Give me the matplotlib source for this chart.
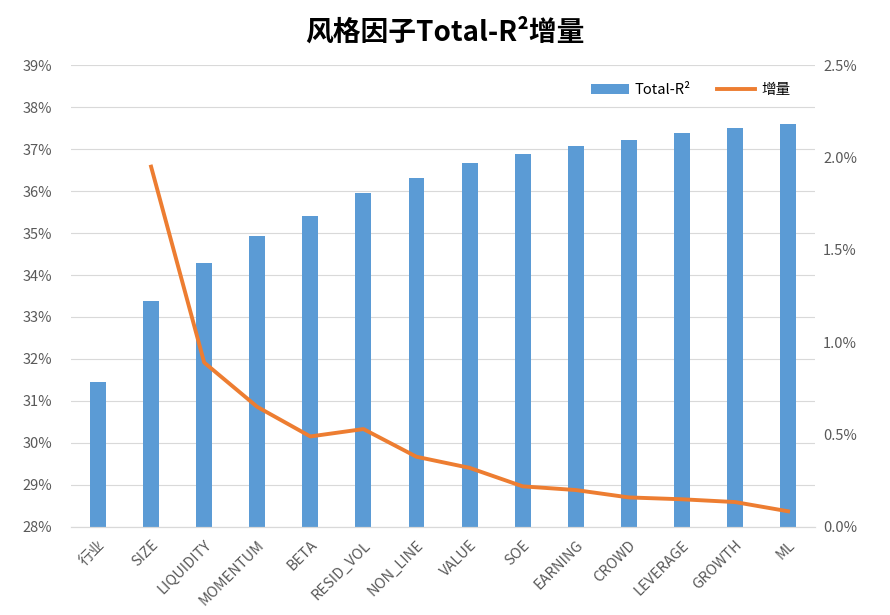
import numpy as np
import matplotlib.pyplot as plt
from matplotlib.ticker import FuncFormatter

plt.rcParams['font.family'] = ['Noto Sans CJK SC', 'DejaVu Sans']

categories = ['行业', 'SIZE', 'LIQUIDITY', 'MOMENTUM', 'BETA', 'RESID_VOL', 'NON_LINE',
              'VALUE', 'SOE', 'EARNING', 'CROWD', 'LEVERAGE', 'GROWTH', 'ML']
total_r2 = [31.45, 33.38, 34.28, 34.93, 35.40, 35.95, 36.32,
            36.66, 36.87, 37.06, 37.22, 37.37, 37.51, 37.59]
increment = [np.nan, 1.95, 0.89, 0.65, 0.49, 0.53, 0.38,
             0.32, 0.22, 0.20, 0.16, 0.15, 0.135, 0.085]

gray = '#595959'
x = np.arange(len(categories))

fig = plt.figure(figsize=(8.9, 6.15), dpi=100)
ax = fig.add_axes([0.0803, 0.1431, 0.835, 0.7512])
ax2 = ax.twinx()

bars = ax.bar(x, total_r2, width=0.3, color='#5b9bd5', label='Total-R²', zorder=2)
ax.set_ylim(28, 39)
ax.set_yticks(np.arange(28, 40, 1))
ax.yaxis.set_major_formatter(FuncFormatter(lambda v, p: '%d%%' % v))
ax.set_xlim(-0.5, len(categories) - 0.5)
ax.set_xticks(x)
ax.set_xticklabels(categories, rotation=45, ha='right', rotation_mode='anchor')
ax.grid(axis='y', color='#d9d9d9', linewidth=0.8, zorder=0)
ax.set_axisbelow(True)

line, = ax2.plot(x, increment, color='#ed7d31', linewidth=2.8, label='增量')
ax2.set_ylim(0, 2.5)
ax2.set_yticks(np.arange(0, 2.6, 0.5))
ax2.yaxis.set_major_formatter(FuncFormatter(lambda v, p: '%.1f%%' % v))

for a in (ax, ax2):
    for s in ['top', 'left', 'right']:
        a.spines[s].set_visible(False)
    a.spines['bottom'].set_color('#d9d9d9')
    a.tick_params(length=0, colors=gray, labelsize=10.5)
ax.tick_params(axis='y', pad=14)
ax2.tick_params(axis='y', pad=6)
ax.tick_params(axis='x', pad=8)

fig.suptitle('风格因子Total-R²增量', fontsize=20, fontweight='bold', y=0.97)
ax.legend([bars, line], ['Total-R²', '增量'], loc='upper right', ncol=2,
          frameon=False, fontsize=10.5, bbox_to_anchor=(0.985, 0.99),
          handlelength=2.6, handletextpad=0.4, columnspacing=1.8, labelcolor='#000000')

plt.savefig('out.png', dpi=100)
plt.close()
